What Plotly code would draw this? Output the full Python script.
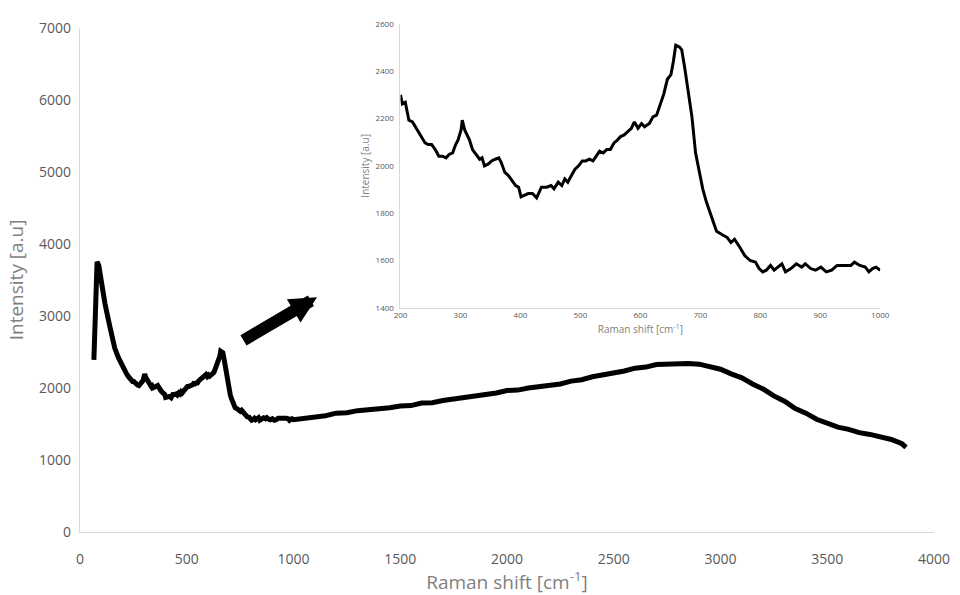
import plotly.graph_objects as go

# ---- Inset data (200-1000 cm-1) ----
inset_x = [200, 203, 208, 214, 220, 228, 237, 241, 246, 252, 258, 264, 270, 276, 281, 287, 292, 296, 301, 303,
           307, 311, 315, 320, 326, 332, 336, 340, 346, 352, 358, 364, 368, 374, 380, 386, 392, 397, 401, 407,
           413, 420, 427, 435, 444, 451, 456, 463, 469, 474, 479, 485, 491, 497, 503, 509, 515, 521, 526, 532,
           538, 544, 550, 556, 562, 567, 573, 579, 585, 590, 596, 602, 607, 615, 621, 627, 633, 639, 645, 651,
           655, 659, 665, 669, 674, 680, 686, 692, 698, 704, 710, 719, 727, 736, 745, 751, 757, 766, 774, 783,
           792, 798, 804, 810, 817, 823, 830, 836, 842, 851, 860, 869, 875, 884, 892, 901, 910, 919, 928, 940,
           951, 957, 966, 975, 981, 987, 993, 1000]
inset_y = [2300, 2262, 2269, 2193, 2186, 2152, 2117, 2097, 2090, 2090, 2069, 2041, 2041, 2034, 2048, 2055, 2090, 2110, 2152, 2193,
           2152, 2131, 2110, 2069, 2048, 2028, 2034, 2000, 2007, 2021, 2028, 2034, 2014, 1972, 1959, 1938, 1917, 1910, 1869, 1876,
           1883, 1883, 1865, 1910, 1910, 1917, 1903, 1931, 1917, 1945, 1931, 1959, 1986, 2000, 2021, 2021, 2028, 2021, 2041, 2062,
           2055, 2069, 2069, 2097, 2110, 2124, 2131, 2145, 2159, 2186, 2159, 2179, 2165, 2179, 2207, 2214, 2262, 2303, 2366, 2386,
           2441, 2510, 2503, 2490, 2414, 2303, 2207, 2055, 1972, 1903, 1848, 1779, 1724, 1710, 1697, 1676, 1690, 1655, 1621, 1600,
           1593, 1566, 1552, 1559, 1579, 1559, 1572, 1586, 1552, 1566, 1586, 1572, 1586, 1566, 1559, 1572, 1552, 1559, 1579, 1579,
           1579, 1593, 1579, 1572, 1552, 1566, 1572, 1559]

# ---- Main spectrum: low-shift part (<200) and high-shift part (>1000) ----
low_x = [65, 72, 80, 88, 100, 117, 140, 163, 180, 196]
low_y = [2390, 3400, 3750, 3700, 3450, 3170, 2850, 2550, 2420, 2310]

high_x = [1050, 1100, 1150, 1200, 1250, 1300, 1350, 1400, 1450, 1500, 1550, 1600, 1650, 1700, 1750, 1800,
          1850, 1900, 1950, 2000, 2050, 2100, 2150, 2200, 2250, 2300, 2350, 2400, 2450, 2500, 2550, 2600,
          2650, 2700, 2750, 2800, 2850, 2900, 2950, 3000, 3050, 3100, 3150, 3200, 3250, 3300, 3350, 3400,
          3450, 3500, 3550, 3600, 3650, 3700, 3750, 3800, 3850, 3869]
high_y = [1572, 1595, 1615, 1650, 1655, 1685, 1695, 1720, 1725, 1750, 1755, 1790, 1795, 1825, 1845, 1865,
          1875, 1910, 1930, 1965, 1970, 2000, 2015, 2045, 2055, 2095, 2115, 2155, 2180, 2215, 2235, 2275,
          2290, 2325, 2330, 2350, 2340, 2330, 2295, 2260, 2195, 2140, 2055, 1985, 1890, 1815, 1715, 1650,
          1565, 1510, 1455, 1425, 1380, 1355, 1315, 1285, 1225, 1175]

main_x = low_x + inset_x + high_x
main_y = low_y + inset_y + high_y

main_xticks = [0, 500, 1000, 1500, 2000, 2500, 3000, 3500, 4000]
main_yticks = [0, 1000, 2000, 3000, 4000, 5000, 6000, 7000]
inset_xticks = [200, 300, 400, 500, 600, 700, 800, 900, 1000]
inset_yticks = [1400, 1600, 1800, 2000, 2200, 2400, 2600]

FONT = "Open Sans"
AXIS = "#d9d9d9"
TICK = "#595959"
TITLE = "#7f7f7f"

fig = go.Figure()
fig.add_trace(go.Scatter(x=main_x, y=main_y, mode="lines",
                         line=dict(color="black", width=5), xaxis="x", yaxis="y",
                         showlegend=False, hoverinfo="skip"))
fig.add_trace(go.Scatter(x=inset_x, y=inset_y, mode="lines",
                         line=dict(color="black", width=3), xaxis="x2", yaxis="y2",
                         showlegend=False, hoverinfo="skip"))

H = 533 - 10
fig.update_layout(
    width=960, height=595,
    margin=dict(l=80, r=22, t=10, b=62),
    paper_bgcolor="white", plot_bgcolor="white",
    font=dict(family=FONT, color=TICK),
    xaxis=dict(domain=[0, 1], range=[0, 4000], tickvals=main_xticks, showgrid=False, zeroline=False,
               showline=True, linecolor=AXIS, linewidth=1.3, ticks="",
               tickfont=dict(size=14, color=TICK, family=FONT), ticklabelstandoff=14,
               title=dict(text="Raman shift [cm<sup>-1</sup>]", font=dict(size=19, color=TITLE, family=FONT),
                          standoff=4)),
    yaxis=dict(domain=[0, (533 - 18) / H], range=[0, 7000], tickvals=main_yticks, showgrid=False,
               zeroline=False, showline=True, linecolor=AXIS, linewidth=1.3, ticks="",
               tickfont=dict(size=14, color=TICK, family=FONT), ticklabelstandoff=5,
               title=dict(text="Intensity [a.u]", font=dict(size=19, color=TITLE, family=FONT), standoff=10)),
    xaxis2=dict(domain=[(402 - 80) / 858, (884 - 80) / 858], range=[200, 1000], tickvals=inset_xticks,
                anchor="y2", showgrid=False, zeroline=False, showline=True, linecolor=AXIS, linewidth=1,
                ticks="", tickfont=dict(size=8, color=TICK, family=FONT), ticklabelstandoff=0,
                title=dict(text="Raman shift [cm<sup>-1</sup>]", font=dict(size=10, color=TITLE, family=FONT),
                           standoff=6)),
    yaxis2=dict(domain=[(533 - 304) / H, (533 - 14) / H], range=[1400, 2600], tickvals=inset_yticks,
                anchor="x2", showgrid=False, zeroline=False, showline=True, linecolor=AXIS, linewidth=1,
                ticks="", tickfont=dict(size=8, color=TICK, family=FONT), ticklabelstandoff=4,
                title=dict(text="Intensity [a.u]", font=dict(size=10, color=TITLE, family=FONT), standoff=4)),
)

fig.add_annotation(x=1110, y=3260, xref="x", yref="y", text="", showarrow=True,
                   ax=-75, ay=44, arrowcolor="black", arrowwidth=12, arrowhead=2, arrowsize=0.45)

fig.write_html("out.html")
